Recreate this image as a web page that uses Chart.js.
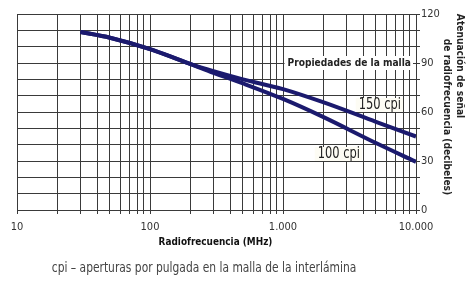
<!DOCTYPE html>
<html>
<head>
<meta charset="utf-8">
<script src="https://cdn.jsdelivr.net/npm/chart.js@4"></script>
<style>
  html, body { margin: 0; padding: 0; background: #fff; }
  #wrap { width: 470px; height: 291px; }
</style>
</head>
<body>
<div id="wrap"><canvas id="chart" width="470" height="291"></canvas></div>
<script>
// Frequencies (MHz) and attenuation (dB)
const frequencies = [30, 50, 100, 200, 300, 500, 1000, 2000, 5000, 10000];
const cpi150 = [109, 105.5, 98.5, 89.5, 85, 80, 74, 66, 54, 45];
const cpi100 = [109, 105.5, 98.5, 89.5, 84, 77.5, 68, 57, 41, 29.5];

const decades = [10, 100, 1000];
const xTickLabels = { 10: '10', 100: '100', 1000: '1.000', 10000: '10.000' };
const yTickLabels = [0, 30, 60, 90, 120];

const FONT = "'Liberation Sans Narrow', 'DejaVu Sans Condensed', Arial, sans-serif";
const LINE_COLOR = '#1b1a6e';
const GRID_COLOR = '#3a3a3a';

function toPoints(values) {
    return frequencies.map((f, i) => ({ x: f, y: values[i] }));
}

// draw text squeezed horizontally, like the narrow face of the original
function narrowText(ctx, text, x, y, align, squeeze) {
    ctx.save();
    ctx.translate(x, y);
    ctx.scale(squeeze, 1);
    ctx.textAlign = align;
    ctx.textBaseline = 'middle';
    ctx.fillText(text, 0, 0);
    ctx.restore();
}

// Text boxes, axis titles and caption
const textPlugin = {
    id: 'texts',
    afterDraw(chart) {
        const ctx = chart.ctx;
        const area = chart.chartArea;
        ctx.save();

        function boxText(text, x, y, font, squeeze, bg) {
            ctx.font = font;
            const w = ctx.measureText(text).width * squeeze;
            ctx.fillStyle = bg;
            ctx.fillRect(x - w - 3, y - 7, w + 5, 14);
            ctx.fillStyle = '#222';
            narrowText(ctx, text, x, y, 'right', squeeze);
        }

        boxText('Propiedades de la malla', 411, 63, 'bold 11px ' + FONT, 0.92, '#fff');
        boxText('150 cpi', 401, 105, '15px ' + FONT, 0.85, '#fdfcf4');
        boxText('100 cpi', 360, 154, '15px ' + FONT, 0.85, '#fdfcf4');

        // x axis title
        ctx.fillStyle = '#111';
        ctx.font = 'bold 11px ' + FONT;
        narrowText(ctx, 'Radiofrecuencia (MHz)', (area.left + area.right) / 2 - 1, 242, 'center', 0.9);

        // caption
        ctx.fillStyle = '#444';
        ctx.font = '14px ' + FONT;
        narrowText(ctx, 'cpi \u2013 aperturas por pulgada en la malla de la interlámina', 204, 268, 'center', 0.85);

        // right axis title, rotated clockwise
        ctx.fillStyle = '#222';
        ctx.font = 'bold 11px ' + FONT;
        ctx.save();
        ctx.translate(460, 66);
        ctx.rotate(Math.PI / 2);
        narrowText(ctx, 'Atenuación de señal', 0, 0, 'center', 0.92);
        ctx.restore();
        ctx.save();
        ctx.translate(447, 117);
        ctx.rotate(Math.PI / 2);
        narrowText(ctx, 'de radiofrecuencia (decibeles)', 0, 0, 'center', 0.92);
        ctx.restore();
        ctx.restore();
    }
};

new Chart(document.getElementById('chart'), {
    type: 'line',
    data: {
        datasets: [
            {
                label: '100 cpi',
                data: toPoints(cpi100),
                borderColor: LINE_COLOR,
                borderWidth: 4,
                pointRadius: 0,
                cubicInterpolationMode: 'monotone',
                fill: false
            },
            {
                label: '150 cpi',
                data: toPoints(cpi150),
                borderColor: LINE_COLOR,
                borderWidth: 4,
                pointRadius: 0,
                cubicInterpolationMode: 'monotone',
                fill: false
            }
        ]
    },
    options: {
        responsive: false,
        animation: false,
        layout: { padding: { left: 17, top: 14, right: 0, bottom: 0 } },
        plugins: {
            legend: { display: false },
            tooltip: { enabled: false }
        },
        scales: {
            x: {
                type: 'logarithmic',
                min: 10,
                max: 10000,
                afterBuildTicks(scale) {
                    const ticks = [];
                    decades.forEach(d => {
                        for (let k = 1; k <= 9; k++) ticks.push({ value: d * k });
                    });
                    ticks.push({ value: 10000 });
                    scale.ticks = ticks;
                },
                afterFit(scale) { scale.height = 291 - 210; },
                grid: { color: GRID_COLOR, lineWidth: 1, drawTicks: true, tickLength: 4 },
                border: { color: GRID_COLOR },
                ticks: {
                    autoSkip: false,
                    maxRotation: 0,
                    padding: 7,
                    color: '#333',
                    font: { family: FONT, size: 11 },
                    callback: value => xTickLabels[value] || ''
                }
            },
            y: {
                position: 'right',
                min: 0,
                max: 120,
                afterFit(scale) { scale.width = 470 - 416; },
                grid: { color: GRID_COLOR, lineWidth: 1, tickLength: 4 },
                border: { color: GRID_COLOR },
                ticks: {
                    stepSize: 10,
                    padding: 1,
                    color: '#333',
                    font: { family: FONT, size: 11 },
                    callback: value => yTickLabels.includes(value) ? String(value) : ''
                }
            }
        }
    },
    plugins: [textPlugin]
});
</script>
</body>
</html>
